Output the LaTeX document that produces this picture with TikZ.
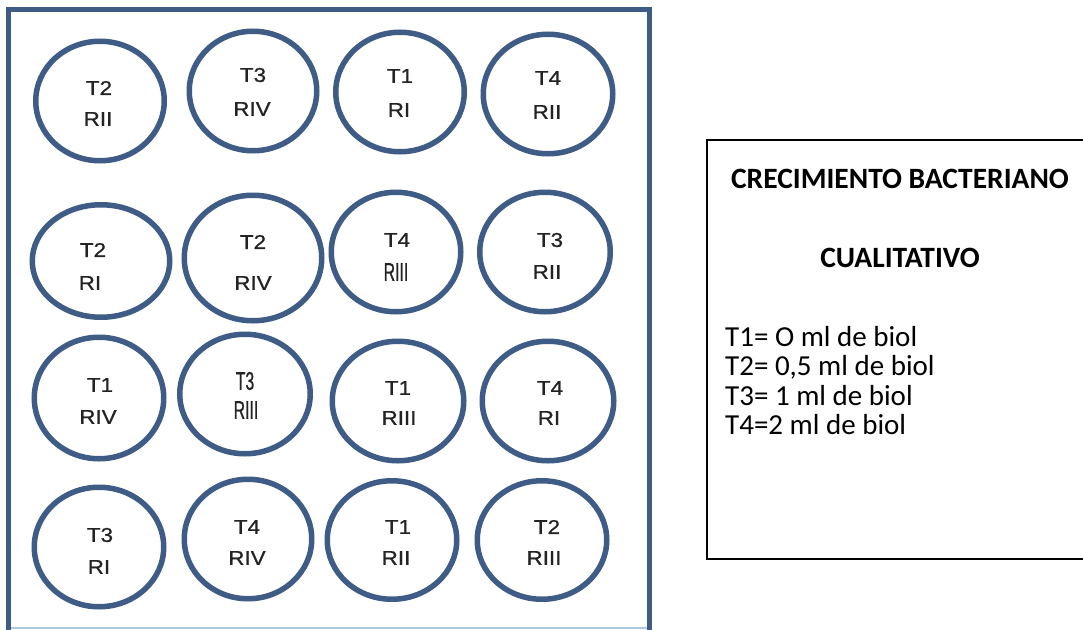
\documentclass[tikz,border=0pt]{standalone}
\usepackage{fontspec}
\setmainfont{Carlito}
\newfontfamily\labfont[FakeStretch=1.12,FakeBold=0.8]{Liberation Sans}
\newfontfamily\narrowfont[FakeStretch=0.62,FakeBold=0.8]{Liberation Sans}
\usetikzlibrary{shapes.geometric}
\definecolor{wellblue}{RGB}{62,92,133}
\definecolor{lightedge}{RGB}{175,200,225}
\definecolor{labgray}{RGB}{35,35,35}
\tikzset{
  well/.style={ellipse, draw=wellblue, line width=5.5pt, inner sep=0pt},
  lab/.style={inner sep=0pt, anchor=center, text=labgray, font=\labfont\fontsize{20}{20}\selectfont},
  narrowlab/.style={inner sep=0pt, anchor=center, text=labgray, font=\narrowfont\fontsize{25.5}{25.5}\selectfont},
  legtitle/.style={inner sep=0pt, anchor=base, font=\bfseries\fontsize{29.5}{30}\selectfont},
  legline/.style={inner sep=0pt, anchor=base west, font=\fontsize{29}{30}\selectfont},
}
\newcommand{\mywell}[5]{\node[well, minimum width=#4pt-5.5pt, minimum height=#5pt-5.5pt] (#1) at (#2,#3) {};}
\begin{document}
\begin{tikzpicture}[x=1pt,y=-1pt]
\useasboundingbox (0,0) rectangle (1083,629);
\fill[white] (0,0) rectangle (1083,629);
% outer square
\draw[lightedge, line width=1.5pt] (8,628) -- (650,628);
\draw[wellblue, line width=5pt] (8,632) -- (8,9.5) -- (649.5,9.5) -- (649.5,632);
% wells
\mywell{c1}{100}{101}{134}{125}
\mywell{c2}{253}{91}{133}{125}
\mywell{c3}{400}{92}{134}{125}
\mywell{c4}{548}{94}{135}{125}
\mywell{c5}{101}{261}{143}{118}
\mywell{c6}{253}{258}{143}{131}
\mywell{c7}{396}{252}{135}{125}
\mywell{c8}{545}{252}{136}{125}
\mywell{c9}{99}{398}{135}{127}
\mywell{c10}{245}{394}{136}{125}
\mywell{c11}{398}{401}{137}{125}
\mywell{c12}{548}{401}{137}{125}
\mywell{c13}{99}{547}{135}{125}
\mywell{c14}{248}{539}{133}{125}
\mywell{c15}{392}{540}{135}{124}
\mywell{c16}{542}{540}{135}{124}
% labels
\node[lab] (t1) at (99,88) {T2};   \node[lab] (r1) at (98,119) {RII};
\node[lab] (t2) at (253,75) {T3};  \node[lab] (r2) at (252,109) {RIV};
\node[lab] (t3) at (400,76) {T1};  \node[lab] (r3) at (399,110) {RI};
\node[lab] (t4) at (548,78) {T4};  \node[lab] (r4) at (547,112) {RII};
\node[lab] (t5) at (93,250) {T2};  \node[lab] (r5) at (90,283) {RI};
\node[lab] (t6) at (253,242) {T2}; \node[lab] (r6) at (253,283) {RIV};
\node[lab] (t7) at (397,240) {T4}; \node[narrowlab] (r7) at (396,272) {RIII};
\node[lab] (t8) at (550,240) {T3}; \node[lab] (r8) at (547,272) {RII};
\node[lab] (t9) at (100,385) {T1}; \node[lab] (r9) at (98,417) {RIV};
\node[narrowlab] (t10) at (245,381) {T3}; \node[narrowlab] (r10) at (246,410) {RIII};
\node[lab] (t11) at (398,388) {T1}; \node[lab] (r11) at (399,418) {RIII};
\node[lab] (t12) at (550,388) {T4}; \node[lab] (r12) at (549,418) {RI};
\node[lab] (t13) at (100,535) {T3}; \node[lab] (r13) at (99,567) {RI};
\node[lab] (t14) at (247,527) {T4}; \node[lab] (r14) at (247,558) {RIV};
\node[lab] (t15) at (398,527) {T1}; \node[lab] (r15) at (396,558) {RII};
\node[lab] (t16) at (547,527) {T2}; \node[lab] (r16) at (544,558) {RIII};
% legend box
\draw[black, line width=2pt] (1090,140) -- (707,140) -- (707,559) -- (1090,559);
\node[legtitle] (lt1) at (900,188) {CRECIMIENTO BACTERIANO};
\node[legtitle] (lt2) at (900,267) {CUALITATIVO};
\node[legline] (l1) at (725,346) {T1= O ml de biol};
\node[legline] (l2) at (725,375.5) {T2= 0,5 ml de biol};
\node[legline] (l3) at (725,405) {T3= 1 ml de biol};
\node[legline] (l4) at (725,434.5) {T4=2 ml de biol};
\end{tikzpicture}
\end{document}
